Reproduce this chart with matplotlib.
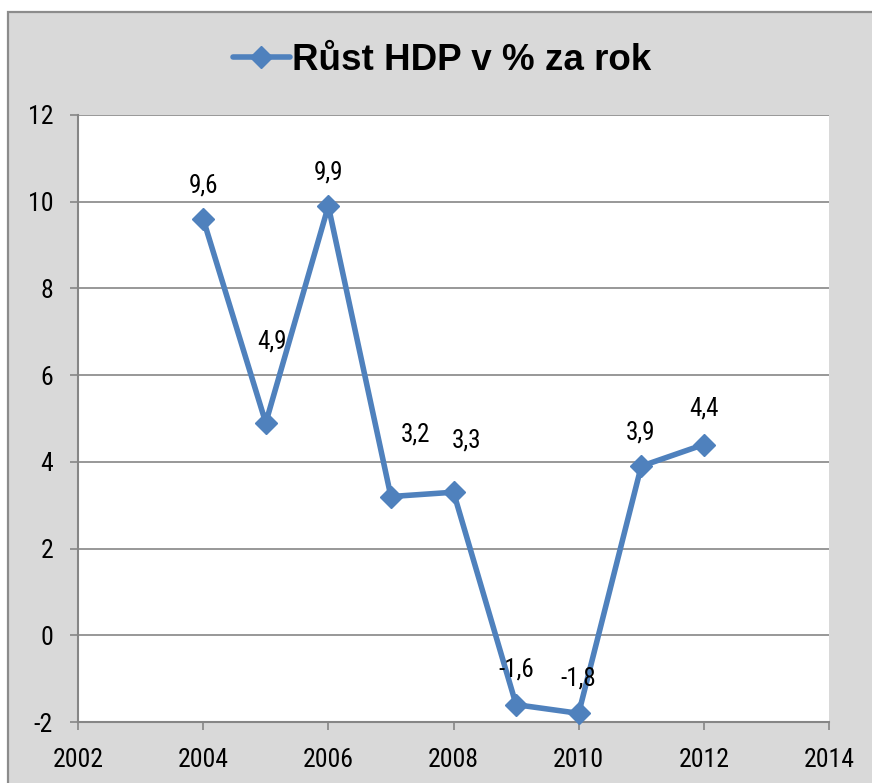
import matplotlib
matplotlib.use("Agg")
import matplotlib.pyplot as plt
from matplotlib.patches import Rectangle
from matplotlib.lines import Line2D

years = [2004, 2005, 2006, 2007, 2008, 2009, 2010, 2011, 2012]
growth = [9.6, 4.9, 9.9, 3.2, 3.3, -1.6, -1.8, 3.9, 4.4]
labels = ["9,6", "4,9", "9,9", "3,2", "3,3", "-1,6", "-1,8", "3,9", "4,4"]
x_ticks = [2002, 2004, 2006, 2008, 2010, 2012, 2014]
y_ticks = [-2, 0, 2, 4, 6, 8, 10, 12]
title = "Růst HDP v % za rok"

# label placement (pixels, relative to the point) - layout only
label_dx_px = [0, 6, 0, 25, 13, 0, 0, -1, 0]
label_dy_px = [34, 81, 34, 62, 52, 35, 35, 34, 36]

W, H = 872, 783
NARROW = ['Roboto Condensed', 'Liberation Sans Narrow', 'Liberation Sans', 'DejaVu Sans']
LINE_C = '#4F81BD'
GRID_C = '#868686'
BG = '#D9D9D9'
PT = 0.72  # points per pixel at dpi 100

fig = plt.figure(figsize=(W / 100, H / 100), dpi=100)
fig.patch.set_facecolor('white')

# outer gray chart area (cropped on right and bottom)
fig.add_artist(Rectangle((8 / W, -0.05), 1.0, 1 - 12 / H + 0.05, transform=fig.transFigure,
                         facecolor=BG, edgecolor='#8C8C8C', linewidth=1.6, zorder=0))

ax = fig.add_axes([78 / W, 1 - 722 / H, (829 - 78) / W, (722 - 115) / H])
ax.set_facecolor('white')
ax.plot(years, growth, color=LINE_C, linewidth=4.0, marker='D', markersize=11,
        markerfacecolor=LINE_C, markeredgecolor=LINE_C, zorder=3, clip_on=False)

for xv, yv, lab, dx, dy in zip(years, growth, labels, label_dx_px, label_dy_px):
    ax.annotate(lab, (xv, yv), xytext=(dx * PT, dy * PT), textcoords='offset points',
                ha='center', va='center', fontsize=18, family=NARROW, color='black')

ax.set_xlim(2002, 2014)
ax.set_ylim(-2, 12)
ax.set_xticks(x_ticks)
ax.set_yticks(y_ticks)
ax.set_xticklabels([str(v) for v in x_ticks])
ax.set_yticklabels([str(v) for v in y_ticks])
for t in ax.get_xticklabels() + ax.get_yticklabels():
    t.set_family(NARROW)
    t.set_fontsize(18.5)
ax.tick_params(axis='both', direction='out', length=6, width=1.2, color=GRID_C)
ax.tick_params(axis='x', pad=12.5)
ax.tick_params(axis='y', pad=12)
ax.grid(axis='y', color=GRID_C, linewidth=1.2)
ax.set_axisbelow(True)
for s in ['top', 'right']:
    ax.spines[s].set_visible(False)
for s in ['left', 'bottom']:
    ax.spines[s].set_color(GRID_C)
    ax.spines[s].set_linewidth(1.5)

# title with legend key
ty = 1 - 57 / H
fig.add_artist(Line2D([233 / W, 290 / W], [ty, ty], transform=fig.transFigure,
                      color=LINE_C, linewidth=4.0, solid_capstyle='round'))
fig.add_artist(Line2D([261 / W], [ty], transform=fig.transFigure, color=LINE_C,
                      marker='D', markersize=11, linestyle='none'))
fig.text(292 / W, 1 - 70 / H, title, ha='left', va='baseline', fontsize=26.5,
         fontweight='bold', family=['Liberation Sans', 'DejaVu Sans'], color='black')

fig.savefig('out.png', dpi=100, facecolor=fig.get_facecolor())
